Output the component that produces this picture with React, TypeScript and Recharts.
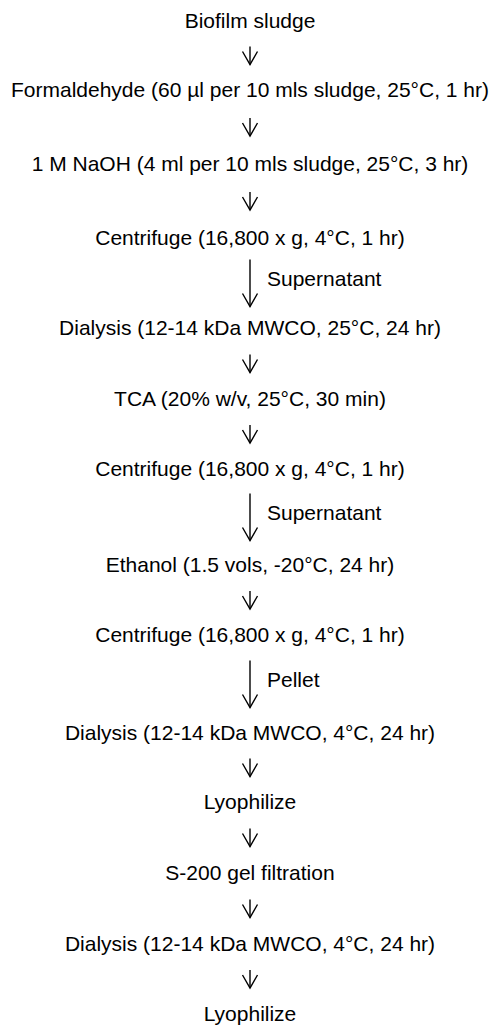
import React from 'react';
import { ScatterChart, Scatter, XAxis, YAxis } from 'recharts';

// flow steps, top to bottom
const steps = [
  'Biofilm sludge',
  'Formaldehyde (60 µl per 10 mls sludge, 25°C, 1 hr)',
  '1 M NaOH (4 ml per 10 mls sludge, 25°C, 3 hr)',
  'Centrifuge (16,800 x g, 4°C, 1 hr)',
  'Dialysis (12-14 kDa MWCO, 25°C, 24 hr)',
  'TCA (20% w/v, 25°C, 30 min)',
  'Centrifuge (16,800 x g, 4°C, 1 hr)',
  'Ethanol (1.5 vols, -20°C, 24 hr)',
  'Centrifuge (16,800 x g, 4°C, 1 hr)',
  'Dialysis (12-14 kDa MWCO, 4°C, 24 hr)',
  'Lyophilize',
  'S-200 gel filtration',
  'Dialysis (12-14 kDa MWCO, 4°C, 24 hr)',
  'Lyophilize',
];

// vertical position of each step
const stepPos = [20, 89, 163, 237, 327, 398, 468, 564, 634, 732, 801, 872, 943, 1013];

// label beside the arrow leaving each step ('' = plain arrow)
const arrowLabels = ['', '', '', 'Supernatant', '', '', 'Supernatant', '', 'Pellet', '', '', '', ''];

const FONT = '"Liberation Sans", Arial, sans-serif';

const stepData = steps.map((label, i) => ({ x: 0, y: stepPos[i], label }));

const arrows = arrowLabels.map((label, i) => {
  const mid = (stepPos[i] + stepPos[i + 1]) / 2 + 1;
  const half = label ? 23.5 : 9;
  return [
    { x: 0, y: mid - half, label, tip: false },
    { x: 0, y: mid + half, label: '', tip: true },
  ];
});

const StepText = (props: any) => {
  const { cx, cy, payload } = props;
  return (
    <text x={cx} y={cy} textAnchor="middle" dominantBaseline="central" fontFamily={FONT} fontSize={21} fill="#000">
      {payload.label}
    </text>
  );
};

const ArrowPart = (props: any) => {
  const { cx, cy, payload } = props;
  if (payload.tip) {
    return (
      <path d={`M${cx - 7.5},${cy - 13} L${cx},${cy} L${cx + 7.5},${cy - 13}`} fill="none" stroke="#000" strokeWidth={1.4} />
    );
  }
  if (payload.label) {
    return (
      <text x={cx + 17} y={cy + 19} dominantBaseline="central" fontFamily={FONT} fontSize={21} fill="#000">
        {payload.label}
      </text>
    );
  }
  return <g />;
};

export default function App() {
  return (
    <div style={{ width: 500, height: 1025, background: '#fff' }}>
      <style>{'body{margin:0}'}</style>
      <ScatterChart width={500} height={1025} margin={{ top: 0, right: 0, bottom: 0, left: 0 }}>
        <XAxis type="number" dataKey="x" domain={[-1, 1]} hide />
        <YAxis type="number" dataKey="y" domain={[0, 1025]} reversed hide />
        {arrows.map((pts, i) => (
          <Scatter
            key={i}
            data={pts}
            line={{ stroke: '#000', strokeWidth: 1.4 }}
            shape={ArrowPart}
            isAnimationActive={false}
          />
        ))}
        <Scatter data={stepData} shape={StepText} isAnimationActive={false} />
      </ScatterChart>
    </div>
  );
}
